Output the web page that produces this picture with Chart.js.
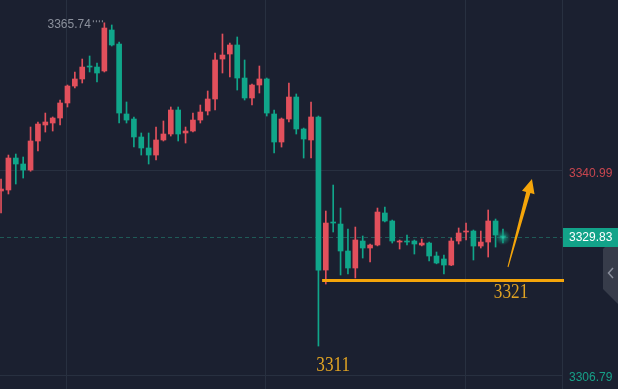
<!DOCTYPE html>
<html>
<head>
<meta charset="utf-8">
<script src="https://cdn.jsdelivr.net/npm/chart.js@4.4.1/dist/chart.umd.min.js"></script>
<style>
  html, body { margin: 0; padding: 0; background: #1b2030; overflow: hidden; }
  #wrap { width: 618px; height: 389px; }
</style>
</head>
<body>
<div id="wrap"><canvas id="kline" width="618" height="389"></canvas></div>
<script>
// K线数据 (读自截图)
const openP = [
  3337.59, 3337.76, 3343.11, 3342.11, 3341.10, 3345.96, 3348.64, 3348.97, 3349.81, 3352.32,
  3355.16, 3356.34, 3358.51, 3358.34, 3357.68, 3364.54, 3362.19, 3350.48, 3349.64, 3346.63,
  3344.79, 3343.61, 3346.13, 3347.13, 3351.15, 3347.30, 3347.63, 3349.47, 3350.98, 3352.99,
  3359.68, 3360.52, 3362.03, 3356.50, 3353.16, 3355.33, 3356.34, 3350.48, 3345.79, 3349.64,
  3353.32, 3347.97, 3346.13, 3349.98, 3324.36, 3332.40, 3332.06, 3327.55, 3324.70, 3329.22,
  3328.05, 3328.55, 3333.91, 3332.57, 3329.05, 3329.22, 3329.22, 3328.55, 3328.88, 3326.71,
  3326.21, 3325.20, 3329.22, 3330.73, 3330.89, 3328.38, 3329.05, 3332.57, 3330.05
];
const closeP = [
  3337.92, 3343.11, 3342.11, 3341.10, 3345.96, 3348.80, 3349.14, 3349.81, 3352.32, 3355.16,
  3356.34, 3358.34, 3358.34, 3357.34, 3364.87, 3362.03, 3350.64, 3349.47, 3346.63, 3344.79,
  3343.61, 3346.13, 3347.13, 3351.15, 3347.13, 3347.63, 3349.47, 3350.81, 3352.99, 3359.52,
  3360.35, 3362.03, 3356.50, 3353.16, 3355.33, 3356.34, 3350.64, 3345.79, 3349.64, 3353.32,
  3347.97, 3346.29, 3349.98, 3324.36, 3332.23, 3332.23, 3327.55, 3324.70, 3329.39, 3328.05,
  3328.55, 3334.07, 3332.57, 3329.22, 3329.22, 3329.05, 3328.72, 3328.88, 3326.71, 3325.54,
  3325.20, 3329.22, 3330.56, 3330.89, 3328.38, 3329.05, 3332.57, 3330.22, 3329.83
];
const highP = [
  3339.60, 3343.61, 3343.78, 3343.28, 3348.30, 3349.14, 3350.64, 3349.98, 3352.82, 3355.33,
  3357.51, 3359.68, 3360.19, 3359.01, 3365.74, 3365.38, 3362.53, 3352.49, 3349.98, 3347.30,
  3347.30, 3348.30, 3349.31, 3351.65, 3351.65, 3348.30, 3350.64, 3351.98, 3354.33, 3360.69,
  3363.87, 3362.36, 3363.37, 3359.52, 3355.50, 3358.51, 3356.50, 3351.15, 3349.81, 3355.67,
  3353.83, 3348.13, 3352.49, 3350.14, 3334.24, 3338.59, 3334.74, 3331.23, 3331.56, 3330.06,
  3328.72, 3334.74, 3334.91, 3332.73, 3329.39, 3330.22, 3329.39, 3329.55, 3329.05, 3327.38,
  3326.88, 3329.72, 3331.40, 3332.23, 3331.06, 3330.89, 3334.41, 3332.90, 3331.23
];
const lowP = [
  3333.91, 3337.09, 3338.76, 3339.76, 3340.90, 3344.28, 3347.46, 3347.63, 3348.64, 3351.65,
  3354.83, 3355.67, 3357.51, 3355.83, 3357.51, 3361.86, 3348.97, 3348.97, 3344.95, 3343.61,
  3342.11, 3342.78, 3345.96, 3346.79, 3345.96, 3345.62, 3347.46, 3348.97, 3350.31, 3351.15,
  3357.34, 3356.67, 3354.49, 3352.82, 3351.98, 3353.99, 3350.14, 3343.95, 3344.95, 3349.14,
  3347.13, 3343.11, 3343.11, 3311.64, 3322.02, 3330.73, 3323.53, 3323.70, 3323.03, 3326.37,
  3325.70, 3328.40, 3332.40, 3328.88, 3327.88, 3328.55, 3327.04, 3328.40, 3325.87, 3325.40,
  3323.70, 3325.10, 3328.72, 3329.39, 3326.04, 3328.05, 3326.54, 3328.21, 3328.88
];

// 右侧价格轴刻度
const axisTicks = [3306.79, 3340.99];
// 竖向网格位置 (K线序号)
const gridX = [8.9, 35.85, 62.95];

// 手绘标注
const supportLevel = 3322.6;
const supportStart = 43.5;
const supportText = "3321";
const lowText = "3311";
const arrowFrom = { x: 68.68, y: 3324.87 };
const arrowTo = { x: 71.93, y: 3339.6 };

const UP = "#e2505c";
const DOWN = "#10a68a";
const GRID = "#283040";
const FONT = "Liberation Sans, Arial, sans-serif";

const idx = openP.map((_, i) => i);
const colors = idx.map((i) => (closeP[i] >= openP[i] ? UP : DOWN));
const lastClose = closeP[closeP.length - 1];
const lastIdx = closeP.length - 1;

// 现价虚线 (在K线后面)
const priceLine = {
  id: "priceLine",
  beforeDatasetsDraw(chart) {
    const { ctx, chartArea, scales } = chart;
    const py = Math.round(scales.y.getPixelForValue(lastClose)) + 0.5;
    ctx.save();
    ctx.strokeStyle = "#1f5a57";
    ctx.lineWidth = 1;
    ctx.setLineDash([4, 3]);
    ctx.beginPath();
    ctx.moveTo(chartArea.left, py);
    ctx.lineTo(chartArea.right, py);
    ctx.stroke();
    ctx.restore();
  },
};

function drawArrow(ctx, x0, y0, x1, y1) {
  const len = Math.hypot(x1 - x0, y1 - y0);
  const dx = (x1 - x0) / len, dy = (y1 - y0) / len;
  const nx = -dy, ny = dx;
  const headLen = 14, headW = 6.5;
  const bx = x1 - dx * headLen, by = y1 - dy * headLen;
  ctx.beginPath();
  ctx.moveTo(x0 + nx * 0.5, y0 + ny * 0.5);
  ctx.lineTo(bx + nx * 2.2, by + ny * 2.2);
  ctx.lineTo(bx + nx * headW, by + ny * headW);
  ctx.lineTo(x1, y1);
  ctx.lineTo(bx - nx * headW, by - ny * headW);
  ctx.lineTo(bx - nx * 2.2, by - ny * 2.2);
  ctx.lineTo(x0 - nx * 0.5, y0 - ny * 0.5);
  ctx.closePath();
  ctx.fill();
}

function stretchText(ctx, text, cx, cy, sx) {
  ctx.save();
  ctx.translate(cx, cy);
  ctx.scale(sx, 1);
  ctx.fillText(text, 0, 0);
  ctx.restore();
}

const overlay = {
  id: "overlay",
  afterDraw(chart) {
    const { ctx, chartArea, scales } = chart;
    const x = scales.x, y = scales.y;
    const W = chart.width;
    ctx.save();

    // 最高价标签
    let maxI = 0;
    highP.forEach((v, i) => { if (v > highP[maxI]) maxI = i; });
    const hx = x.getPixelForValue(maxI);
    const hy = y.getPixelForValue(highP[maxI]);
    ctx.font = "12px " + FONT;
    ctx.fillStyle = "#8b909c";
    ctx.textAlign = "right";
    ctx.textBaseline = "middle";
    ctx.fillText(highP[maxI].toFixed(2), hx - 13.5, hy + 1.5);
    ctx.strokeStyle = "#8b909c";
    ctx.lineWidth = 2;
    ctx.setLineDash([1, 2]);
    ctx.beginPath();
    ctx.moveTo(hx - 11.5, hy - 1.5);
    ctx.lineTo(hx - 1, hy - 1.5);
    ctx.stroke();
    ctx.setLineDash([]);

    // 现价光点
    const dx = x.getPixelForValue(lastIdx);
    const dy = y.getPixelForValue(lastClose);
    const g = ctx.createRadialGradient(dx, dy, 0, dx, dy, 8);
    g.addColorStop(0, "rgba(40,210,175,0.95)");
    g.addColorStop(0.3, "rgba(25,150,130,0.7)");
    g.addColorStop(1, "rgba(20,120,105,0)");
    ctx.fillStyle = g;
    ctx.beginPath();
    ctx.arc(dx, dy, 8, 0, Math.PI * 2);
    ctx.fill();

    // 支撑线
    const sy = y.getPixelForValue(supportLevel);
    ctx.strokeStyle = "#f5a50a";
    ctx.lineWidth = 3;
    ctx.beginPath();
    ctx.moveTo(x.getPixelForValue(supportStart), sy);
    ctx.lineTo(chartArea.right + 2, sy);
    ctx.stroke();

    // 箭头
    ctx.fillStyle = "#f5a50a";
    drawArrow(ctx,
      x.getPixelForValue(arrowFrom.x), y.getPixelForValue(arrowFrom.y),
      x.getPixelForValue(arrowTo.x), y.getPixelForValue(arrowTo.y));

    // 标注文字
    ctx.font = "20px Liberation Serif, DejaVu Serif, serif";
    ctx.fillStyle = "#e2a423";
    ctx.textAlign = "center";
    ctx.textBaseline = "middle";
    stretchText(ctx, supportText, x.getPixelForValue(69.1), sy + 12, 0.86);
    stretchText(ctx, lowText, x.getPixelForValue(45), y.getPixelForValue(lowP[43]) + 19.5, 0.86);

    // 现价标签
    const by = Math.round(dy);
    ctx.fillStyle = "#12a389";
    ctx.fillRect(chartArea.right + 1, by - 9, W - chartArea.right - 1, 19);
    ctx.fillStyle = "#ffffff";
    ctx.font = "12px " + FONT;
    ctx.textAlign = "left";
    ctx.fillText(lastClose.toFixed(2), chartArea.right + 7, by + 1);

    // 侧边收起按钮
    ctx.fillStyle = "#373c4a";
    ctx.beginPath();
    ctx.moveTo(605, by + 10);
    ctx.lineTo(W, by + 10);
    ctx.lineTo(W, by + 67);
    ctx.lineTo(603, by + 52);
    ctx.lineTo(603, by + 12);
    ctx.closePath();
    ctx.fill();
    ctx.strokeStyle = "#8a8f9c";
    ctx.lineWidth = 1.5;
    ctx.beginPath();
    ctx.moveTo(613, by + 31);
    ctx.lineTo(608.5, by + 36);
    ctx.lineTo(613, by + 41);
    ctx.stroke();

    ctx.restore();
  },
};

const ctx = document.getElementById("kline").getContext("2d");
const klineChart = new Chart(ctx, {
  type: "bar",
  data: {
    datasets: [
      {
        label: "影线",
        data: idx.map((i) => ({ x: i, y: [lowP[i], highP[i]] })),
        backgroundColor: colors,
        borderWidth: 0,
        barThickness: 1,
        grouped: false,
        order: 2,
      },
      {
        label: "实体",
        data: idx.map((i) => ({ x: i, y: [openP[i], closeP[i]] })),
        backgroundColor: colors,
        borderWidth: 0,
        barThickness: 5,
        minBarLength: 1,
        grouped: false,
        order: 1,
      },
    ],
  },
  options: {
    responsive: false,
    maintainAspectRatio: false,
    animation: false,
    layout: { padding: 0 },
    plugins: {
      legend: { display: false },
      tooltip: { enabled: false },
    },
    scales: {
      x: {
        type: "linear",
        min: -0.14,
        max: 76,
        offset: false,
        afterBuildTicks: (s) => { s.ticks = gridX.map((v) => ({ value: v })); },
        ticks: { display: false },
        grid: { color: GRID, drawTicks: false, offset: false },
        border: { display: false },
      },
      y: {
        position: "right",
        min: 3304.45,
        max: 3369.56,
        afterBuildTicks: (s) => { s.ticks = axisTicks.map((v) => ({ value: v })); },
        afterFit: (s) => {
          s.width = 56;
          s.paddingTop = 0;
          s.paddingBottom = 0;
        },
        ticks: {
          padding: 7,
          labelOffset: 3,
          font: { family: FONT, size: 12 },
          color: (c) => (c.tick && c.tick.value > lastClose ? "#c9464f" : "#17a088"),
          callback: (v) => Number(v).toFixed(2),
        },
        grid: { color: GRID, drawTicks: false },
        border: { color: GRID },
      },
    },
  },
  plugins: [priceLine, overlay],
});
</script>
</body>
</html>
